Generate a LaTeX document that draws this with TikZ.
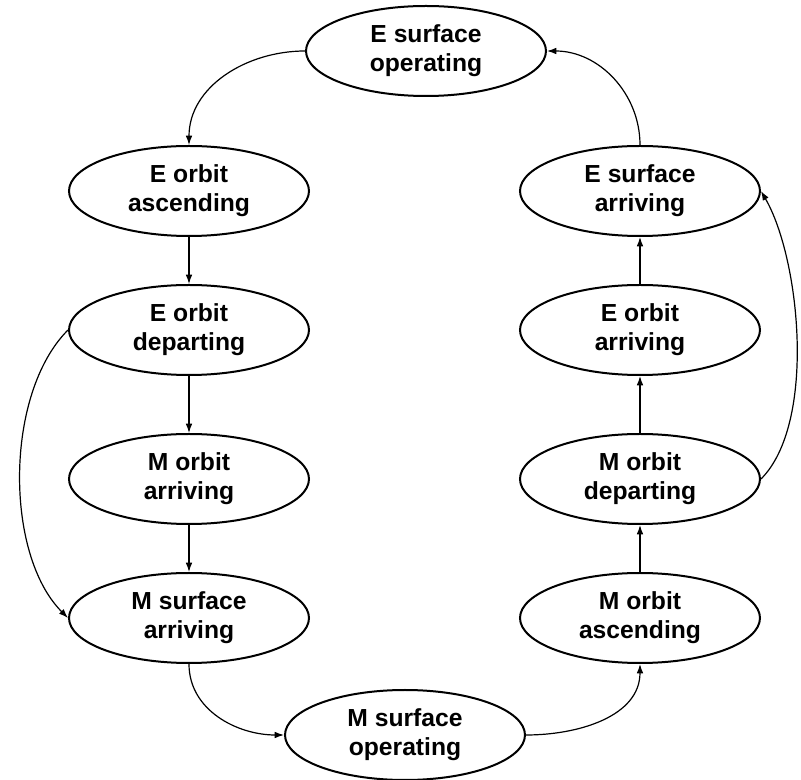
\documentclass[tikz,border=0pt]{standalone}
\usepackage{fontspec}
\setmainfont{Liberation Sans}
\usetikzlibrary{shapes.geometric,arrows.meta}
\begin{document}
\begin{tikzpicture}[x=0.75pt,y=-0.75pt,
  state/.style={ellipse,draw,line width=1.5pt,minimum width=180pt,minimum height=67.5pt,
    inner sep=0pt,align=center,font=\fontsize{18.5}{22}\selectfont\bfseries},
  flow/.style={line width=0.9pt,-{Latex[length=7pt,width=5pt]}}]
\useasboundingbox (0,0) rectangle (801,780);

% states of the cycle
\node[state] (eso)  at (426,51)  {E surface\\operating};
\node[state] (eoa)  at (189,191) {E orbit\\ascending};
\node[state] (eod)  at (189,330) {E orbit\\departing};
\node[state] (moa)  at (189,479) {M orbit\\arriving};
\node[state] (msa)  at (189,618) {M surface\\arriving};
\node[state] (mso)  at (405,735) {M surface\\operating};
\node[state] (masc) at (640,618) {M orbit\\ascending};
\node[state] (mod)  at (640,479) {M orbit\\departing};
\node[state] (eoar) at (640,330) {E orbit\\arriving};
\node[state] (esa)  at (640,191) {E surface\\arriving};

% transitions
\draw[flow] (eso.west) to[out=180,in=90] (eoa.north);
\draw[flow] (eoa) -- (eod);
\draw[flow] (eod) -- (moa);
\draw[flow] (moa) -- (msa);
\draw[flow] (eod.west) to[out=225,in=135,looseness=0.8] (msa.west);
\draw[flow] (msa.south) to[out=-90,in=180] (mso.west);
\draw[flow] (mso.east) to[out=0,in=-90] (masc.south);
\draw[flow] (masc) -- (mod);
\draw[flow] (mod) -- (eoar);
\draw[flow] (eoar) -- (esa);
\draw[flow] (mod.east) to[out=45,in=-60,looseness=0.7] (esa.east);
\draw[flow] (esa.north) to[out=90,in=0] (eso.east);
\end{tikzpicture}
\end{document}
